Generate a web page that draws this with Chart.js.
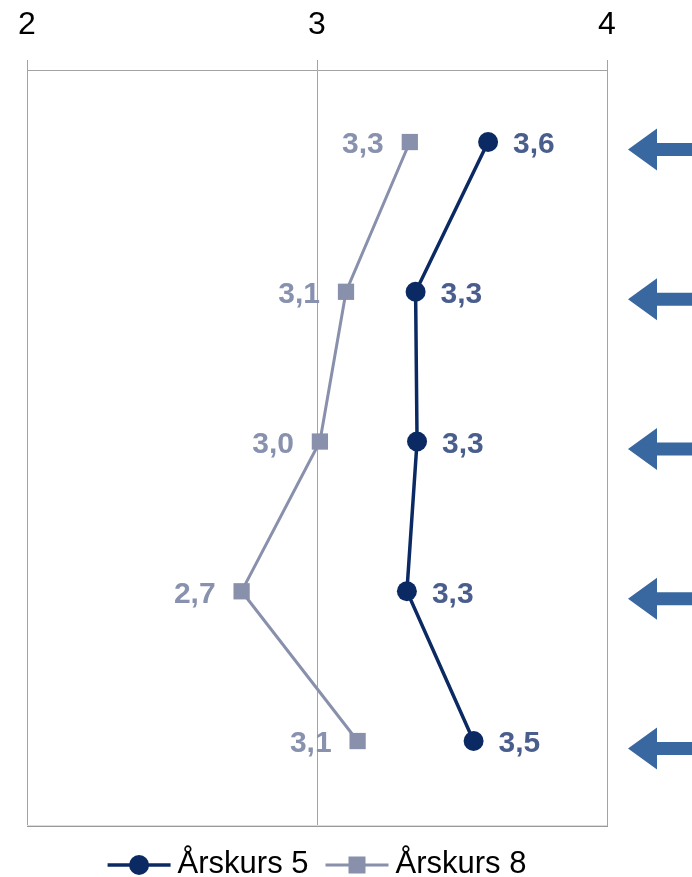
<!DOCTYPE html>
<html><head><meta charset="utf-8">
<script src="https://cdn.jsdelivr.net/npm/chart.js@4.4.1/dist/chart.umd.min.js"></script>
<style>html,body{margin:0;padding:0;background:#fff;}#wrap{width:692px;height:877px;}</style>
</head><body><div id="wrap"><canvas id="c" width="692" height="877"></canvas></div>
<script>
const rows = ['1', '2', '3', '4', '5'];
const xTicks = [2, 3, 4];
const grade5 = [3.59, 3.34, 3.345, 3.31, 3.54];
const grade8 = [3.32, 3.10, 3.01, 2.74, 3.14];
const seriesNames = ['Årskurs 5', 'Årskurs 8'];

const FONT = "'Liberation Sans', Arial, sans-serif";
const C5 = '#0b2a63', C5L = '#4a5e8e';
const C8 = '#8890ac', C8L = '#8891ae';
const ARROW = '#3968a0';
const GRID = '#a3a3a3';

const toPts = arr => arr.map((v, i) => ({x: v, y: i + 1}));
const fmt = v => v.toFixed(1).replace('.', ',');

const deco = {
  id: 'deco',
  beforeDatasetsDraw(chart) {
    const {ctx, chartArea: a} = chart;
    ctx.save();
    ctx.strokeStyle = '#dddddd'; ctx.lineWidth = 1;
    ctx.beginPath(); ctx.moveTo(a.left, a.bottom - 1.5); ctx.lineTo(a.right, a.bottom - 1.5); ctx.stroke();
    ctx.strokeStyle = '#999999';
    ctx.beginPath(); ctx.moveTo(a.left, a.bottom - 0.5); ctx.lineTo(a.right + 1, a.bottom - 0.5); ctx.stroke();
    ctx.restore();
  },
  afterDatasetsDraw(chart) {
    const {ctx, chartArea: a} = chart;
    ctx.save();
    // value labels
    ctx.font = 'bold 30px ' + FONT;
    ctx.textBaseline = 'middle';
    chart.getDatasetMeta(0).data.forEach((p, i) => {
      ctx.fillStyle = C5L; ctx.textAlign = 'left';
      ctx.fillText(fmt(grade5[i]), p.x + 25, p.y + 3);
    });
    chart.getDatasetMeta(1).data.forEach((p, i) => {
      ctx.fillStyle = C8L; ctx.textAlign = 'right';
      ctx.fillText(fmt(grade8[i]), p.x - 26, p.y + 3);
    });
    // arrows
    const ys = chart.scales.y;
    ctx.fillStyle = ARROW;
    rows.forEach((r, i) => {
      const yc = ys.getPixelForValue(i + 1) + 7.5;
      const tip = a.right + 21, base = a.right + 50;
      ctx.beginPath();
      ctx.moveTo(tip, yc);
      ctx.lineTo(base, yc - 21);
      ctx.lineTo(base, yc - 6.5);
      ctx.lineTo(chart.width + 2, yc - 6.5);
      ctx.lineTo(chart.width + 2, yc + 6.5);
      ctx.lineTo(base, yc + 6.5);
      ctx.lineTo(base, yc + 21);
      ctx.closePath();
      ctx.fill();
    });
    // legend
    ctx.font = '31px ' + FONT;
    ctx.textAlign = 'left';
    const symW = 63, gap = 7, itemGap = 17;
    const w1 = ctx.measureText(seriesNames[0]).width;
    const w2 = ctx.measureText(seriesNames[1]).width;
    const total = symW + gap + w1 + itemGap + symW + gap + w2;
    let x = (a.left + a.right) / 2 - total / 2;
    const ly = 865;
    const items = [
      {name: seriesNames[0], color: C5, lw: 3.5, w: w1, shape: 'circle'},
      {name: seriesNames[1], color: C8, lw: 3, w: w2, shape: 'square'}
    ];
    items.forEach(it => {
      ctx.strokeStyle = it.color; ctx.lineWidth = it.lw;
      ctx.beginPath(); ctx.moveTo(x, ly); ctx.lineTo(x + symW, ly); ctx.stroke();
      ctx.fillStyle = it.color;
      const cx = x + symW / 2;
      if (it.shape === 'circle') {
        ctx.beginPath(); ctx.arc(cx, ly, 10, 0, Math.PI * 2); ctx.fill();
      } else {
        ctx.fillRect(cx - 8.5, ly - 8.5, 17, 17);
      }
      ctx.fillStyle = '#000';
      ctx.textBaseline = 'middle';
      ctx.fillText(it.name, x + symW + gap, ly - 1);
      x += symW + gap + it.w + itemGap;
    });
    ctx.restore();
  }
};

new Chart(document.getElementById('c'), {
  type: 'line',
  data: {
    datasets: [
      {
        label: seriesNames[0], data: toPts(grade5),
        borderColor: C5, backgroundColor: C5, borderWidth: 3.5,
        pointStyle: 'circle', pointRadius: 10, pointBorderWidth: 0,
        pointBackgroundColor: C5, tension: 0
      },
      {
        label: seriesNames[1], data: toPts(grade8),
        borderColor: C8, backgroundColor: C8, borderWidth: 3,
        pointStyle: 'rect', pointRadius: 11.5, pointBorderWidth: 0,
        pointBackgroundColor: C8, tension: 0
      }
    ]
  },
  options: {
    responsive: false,
    animation: false,
    devicePixelRatio: 1,
    layout: {padding: {left: 27, right: 85, top: 0, bottom: 50}},
    plugins: {legend: {display: false}, tooltip: {enabled: false}},
    scales: {
      x: {
        type: 'linear', position: 'top', min: 2, max: 4,
        afterBuildTicks: s => { s.ticks = xTicks.map(v => ({value: v})); },
        afterFit: s => { s.height = 70; },
        ticks: {font: {family: FONT, size: 32}, color: '#000', padding: 16, maxRotation: 0},
        grid: {color: GRID, lineWidth: 1, tickLength: 10, tickColor: GRID, drawTicks: true},
        border: {display: true, color: GRID, width: 1}
      },
      y: {
        type: 'linear', reverse: true, min: 0.519, max: 5.574,
        display: false
      }
    }
  },
  plugins: [deco]
});
</script></body></html>
